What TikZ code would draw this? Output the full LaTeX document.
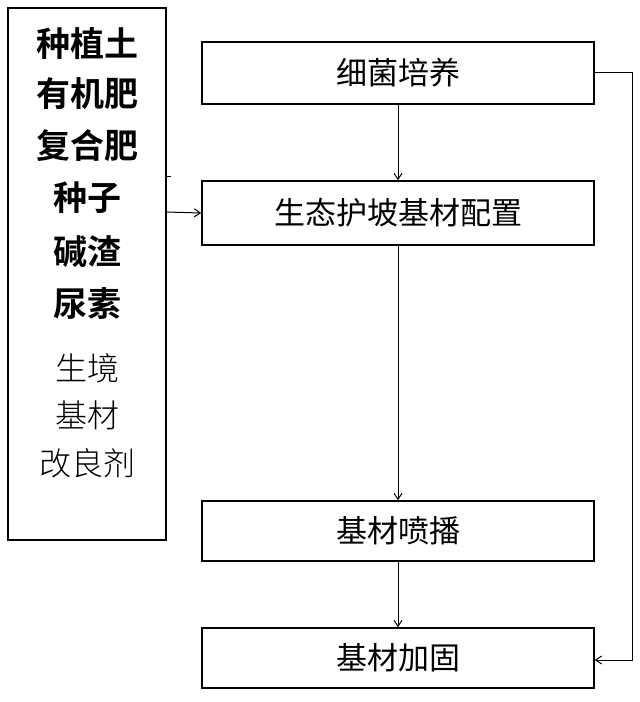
\documentclass[tikz,border=0pt]{standalone}
\usepackage{fontspec}
\newfontfamily\cjk{Noto Sans CJK SC}
\newfontfamily\cjkb{Noto Sans CJK SC Bold}
\newfontfamily\cjkl{Noto Sans CJK SC Light}
\usetikzlibrary{arrows.meta}
\begin{document}
\begin{tikzpicture}[x=1pt,y=-1pt,
  box/.style={draw,line width=1.6pt,inner sep=0},
  lt/.style={font=\cjkb\fontsize{34}{36}\selectfont,anchor=center},
  rt/.style={font=\cjk\fontsize{31}{33}\selectfont,anchor=center},
  arr/.style={-{Straight Barb[length=6pt,width=8pt]},line width=1pt}]
\useasboundingbox (0,0) rectangle (640,702);
\node[box,minimum width=158pt,minimum height=532pt] (L) at (87,274) {};
\foreach \t/\y in {种植土/44,有机肥/94,复合肥/146,种子/198,碱渣/252,尿素/304}
  \node[lt] at (87,\y) {\t};
\foreach \t/\y in {生境/368,基材/415,改良剂/463}
  \node[lt,font=\cjkl\fontsize{32}{34}\selectfont] at (87,\y) {\t};
\node[box,minimum width=392pt,minimum height=62pt] (a) at (398,73) {};
\node[rt] at (a) {细菌培养};
\node[box,minimum width=392pt,minimum height=64pt] (b) at (398,213) {};
\node[rt] at (b) {生态护坡基材配置};
\node[box,minimum width=392pt,minimum height=60pt] (c) at (398,531) {};
\node[rt] at (c) {基材喷播};
\node[box,minimum width=392pt,minimum height=60pt] (d) at (398,658) {};
\node[rt] at (d) {基材加固};
\draw[arr] (a) -- (b);
\draw[arr] (b) -- (c);
\draw[arr] (c) -- (d);
\draw[arr] (L.east |- 0,212) -- (b.west);
\draw[line width=1pt] (L.east |- 0,176) -- ++(4,0);
\draw[arr] (a.east |- 0,72) -- (632,72) -- (632,660) -- (d.east |- 0,660);
\end{tikzpicture}
\end{document}
